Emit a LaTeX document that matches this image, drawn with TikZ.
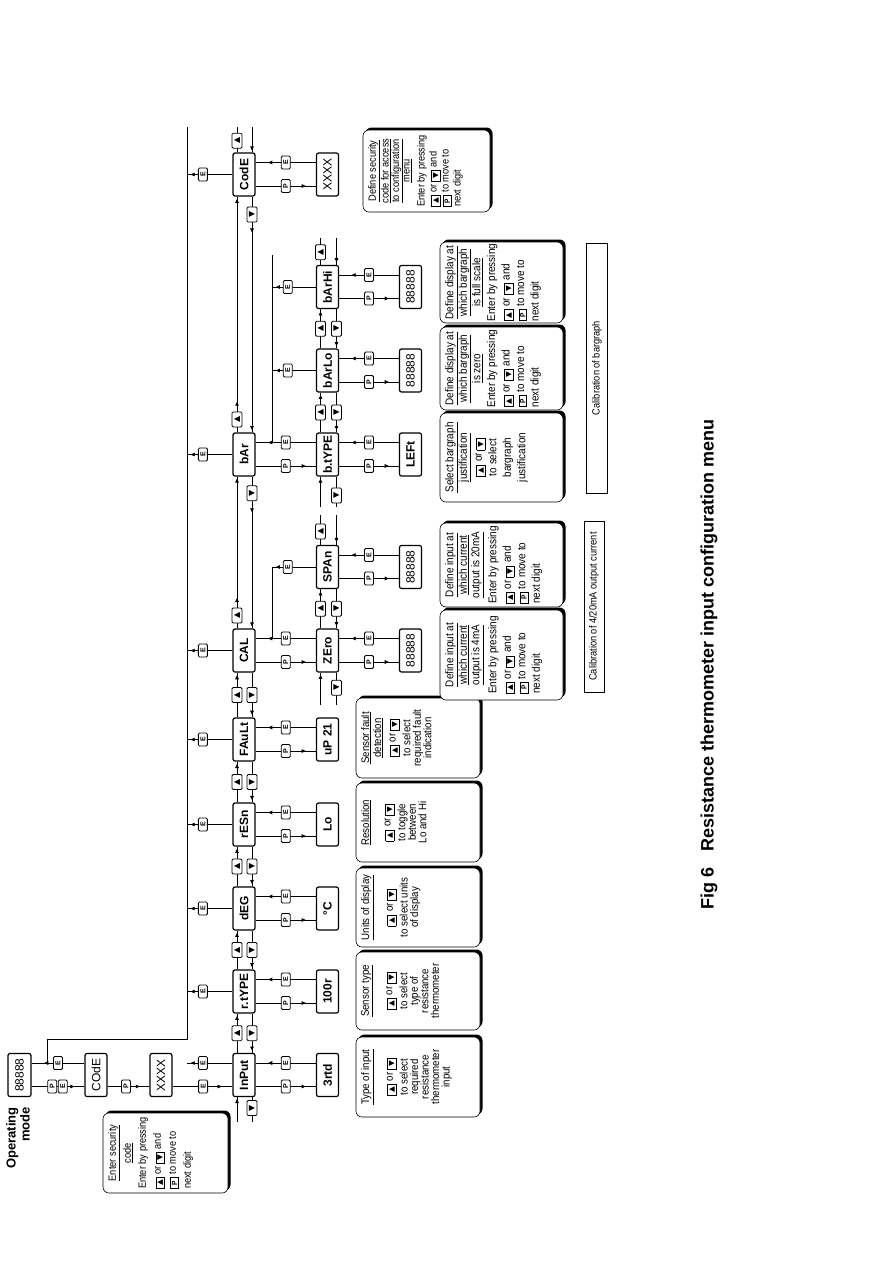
\documentclass[tikz,border=0pt]{standalone}
\usepackage{fontspec}
\setmainfont{Liberation Sans}
\newfontfamily\narrow[FakeStretch=0.88]{Liberation Sans}
\newfontfamily\dejavu{DejaVu Sans}
\usetikzlibrary{arrows.meta,calc,decorations.markings}
\setlength\fboxsep{1pt}
\setlength\fboxrule{0.7pt}
\newcommand\kup{\raisebox{-1.2pt}{\fbox{\makebox[8.5pt]{\dejavu\fontsize{7.5}{7.5}\selectfont ▲}}}}
\newcommand\kdn{\raisebox{-1.2pt}{\fbox{\makebox[8.5pt]{\dejavu\fontsize{7.5}{7.5}\selectfont ▼}}}}
\newcommand\kp{\raisebox{-1.2pt}{\fbox{\makebox[8.5pt]{\fontsize{7.5}{7.5}\selectfont\bfseries P}}}}
\newcommand\dset[3]{\def\dhfont{#1}\def\dbfont{#2}\def\dgap{#3}}
\newcommand\dbox[8]{%
 \fill[rounded corners=6pt] (#1+2.5,#2-2.5) rectangle (#3+2.5,#4-2.5);
 \draw[fill=white, line width=0.6pt, rounded corners=6pt] (#1,#2) rectangle (#3,#4);
 \node[dtxt, font=\dhfont, align=center, anchor=north] (#8h) at (#1+5,{(#2+#4)/2}) {#6};
 \node[dtxt, font=\dbfont, align=#5, anchor=north] (#8b) at ($(#8h.south)+(\dgap,0)$) {#7};}
\newcommand\PE[2]{%
 \draw[ln, mk=0.83] ([yshift=-11.5pt]#1.south) -- node[keyb]{P} ([yshift=-11.5pt]#1.south -| #2.north);
 \draw[ln, mk=0.79] ([yshift=12pt]#2.north) -- node[keyb]{E} ([yshift=12pt]#2.north -| #1.south);}
\newcommand\SE[1]{\draw[ln, mk=0.92] (#1.north) -- node[keyb,pos=0.65]{E} (#1.north -| spB);}
\newcommand\navS[3]{%
 \draw[ln, mk=0.94] ([xshift=-7pt]#1.east) -- node[akey]{▲} ([xshift=-7pt]#2.west);
 \draw[ln, mk=0.94] ([xshift=#3pt]#2.west) -- node[akey]{▼} ([xshift=#3pt]#1.east);}
\begin{document}
\begin{tikzpicture}[x=1pt,y=-1pt,
 ln/.style={line width=0.7pt},
 box/.style={draw, line width=1.2pt, rounded corners=2pt, rotate=90, minimum width=43pt, minimum height=22pt, inner sep=0pt, fill=white, font=\fontsize{12}{12}\selectfont\bfseries},
 vbox/.style={box, font=\fontsize{12}{12}\selectfont},
 keyb/.style={draw, line width=0.8pt, rounded corners=1.2pt, rotate=90, minimum width=13pt, minimum height=9pt, inner sep=0pt, fill=white, font=\fontsize{7}{7}\selectfont\bfseries},
 akey/.style={keyb, minimum width=15pt, minimum height=10pt, font=\dejavu\fontsize{8}{8}\selectfont},
 mk/.style={postaction={decorate}, decoration={markings, mark=at position #1 with {\arrow{Triangle[length=4pt,width=3.6pt]}}}},
 mkk/.style 2 args={postaction={decorate}, decoration={markings, mark=at position #1 with {\arrow{Triangle[length=4pt,width=3.6pt]}}, mark=at position #2 with {\arrow{Triangle[length=4pt,width=3.6pt]}}}},
 dtxt/.style={rotate=90, inner sep=0pt},
 cal/.style={draw, line width=0.6pt, rotate=90, inner sep=0pt, font=\narrow\fontsize{10.5}{10.5}\selectfont}
]
\fill[white] (0,0) rectangle (893,1263);
\useasboundingbox (0,0) rectangle (893,1263);

% ---- left part
\node[vbox, minimum height=23pt] (op) at (19.5,1075) {88888};
\node[vbox] (codeL) at (96,1075) {COdE};
\node[vbox] (xx1) at (161,1075) {XXXX};
\node[rotate=90, anchor=north east, align=right, inner sep=0pt, font=\fontsize{13}{14}\selectfont\bfseries] (opm) at (6,1107) {Operating\\mode};

% ---- main menu
\node[box] (inp) at (244,1075) {InPut};
\node[box] (rty) at (244,991.5) {r.tYPE};
\node[box] (deg) at (244,908.5) {dEG};
\node[box] (res) at (244,824.5) {rESn};
\node[box] (flt) at (244,739.5) {FAuLt};
\node[box] (cal) at (244,650.5) {CAL};
\node[box] (bar) at (244,454.5) {bAr};
\node[box] (cde) at (244,174.5) {CodE};

% ---- level 1
\node[box] (v3rtd) at (327.5,1075) {3rtd};
\node[box] (v100r) at (327.5,991.5) {100r};
\node[box] (vdegc) at (327.5,908.5) {°C};
\node[box] (vlo) at (327.5,824.5) {Lo};
\node[box] (vup) at (327.5,739.5) {uP 21};
\node[box] (zer) at (327.5,650.5) {ZEro};
\node[box] (spa) at (327.5,567) {SPAn};
\node[box] (bty) at (327.5,454.5) {b.tYPE};
\node[box] (blo) at (327.5,370.5) {bArLo};
\node[box] (bhi) at (327.5,287) {bArHi};
\node[vbox] (xx2) at (327.5,174.5) {XXXX};

% ---- level 2
\node[vbox] (z8) at (410.5,650.5) {88888};
\node[vbox] (s8) at (410.5,567) {88888};
\node[box] (lef) at (410.5,454.5) {LEFt};
\node[vbox] (l8) at (410.5,370.5) {88888};
\node[vbox] (h8) at (410.5,287) {88888};

% ---- spine
\coordinate (spT) at (187,127);
\coordinate (spB) at (187,1039);
\coordinate (spC) at (47,1039);
\coordinate (spJ) at (47,1063);
\draw[ln] (spT) -- (spB) -- (spC) -- (spJ);

\draw[ln, mk=0.81] ([yshift=-11.5pt]op.south) -- node[keyb,pos=0.39]{P} node[keyb,pos=0.59]{E} ([yshift=-11.5pt]op.south -| codeL.north);
\draw[ln, mk=0.76] ([yshift=12pt]codeL.north) -- node[keyb,pos=0.5]{E} ([yshift=12pt]codeL.north -| op.south);
\draw[ln, mk=0.77] ([yshift=-11.5pt]codeL.south) -- node[keyb,pos=0.44]{P} ([yshift=-11.5pt]codeL.south -| xx1.north);
\draw[ln, mk=0.82] ([yshift=-11.5pt]xx1.south) -- node[keyb,pos=0.51]{E} ([yshift=-11.5pt]xx1.south -| inp.north);
\draw[ln, mk=0.92] ([yshift=12pt]inp.north) -- node[keyb,pos=0.65]{E} ([yshift=12pt]inp.north -| spB);
\SE{rty}\SE{deg}\SE{res}\SE{flt}\SE{cal}\SE{bar}\SE{cde}

% ---- P / E to sub levels
\PE{inp}{v3rtd}\PE{rty}{v100r}\PE{deg}{vdegc}\PE{res}{vlo}\PE{flt}{vup}
\PE{cal}{zer}\PE{bar}{bty}\PE{cde}{xx2}
\PE{zer}{z8}\PE{spa}{s8}\PE{bty}{lef}\PE{blo}{l8}\PE{bhi}{h8}

% ---- sub E spines
\coordinate (zsT) at (272,567);
\coordinate (zsB) at (272,638.5);
\draw[ln, mk=0.91] (spa.north) -- node[keyb,pos=0.64]{E} (spa.north -| zsT);
\draw[ln] (zsT) -- (zsB);
\coordinate (bsT) at (272,255);
\coordinate (bsB) at (272,442.5);
\draw[ln] (bsT) -- (bsB);
\draw[ln, mk=0.91] (blo.north) -- node[keyb,pos=0.64]{E} (blo.north -| bsT);
\draw[ln, mk=0.91] (bhi.north) -- node[keyb,pos=0.64]{E} (bhi.north -| bsT);

% ---- navigation main menu
\navS{inp}{rty}{8}\navS{rty}{deg}{8}\navS{deg}{res}{8}\navS{res}{flt}{8}\navS{flt}{cal}{8}
\draw[ln, mkk={0.2}{0.987}] ([xshift=-7pt]cal.east) -- node[akey,pos=0.085]{▲} ([xshift=-7pt]bar.west);
\draw[ln, mkk={0.235}{0.987}] ([xshift=8pt]bar.west) -- node[akey,pos=0.11]{▼} ([xshift=8pt]cal.east);
\draw[ln, mkk={0.13}{0.99}] ([xshift=-7pt]bar.east) -- node[akey,pos=0.055]{▲} ([xshift=-7pt]cde.west);
\draw[ln, mkk={0.152}{0.99}] ([xshift=8pt]cde.west) -- node[akey,pos=0.076]{▼} ([xshift=8pt]bar.east);
\coordinate (ibl) at (237,1122); \coordinate (ibr) at (252,1122);
\coordinate (ctl) at (237,127); \coordinate (ctr) at (252,127);
\draw[ln, mk=0.92] (ibl) -- ([xshift=-7pt]inp.west);
\draw[ln] ([xshift=8pt]inp.west) -- node[akey,pos=0.44]{▼} (ibr);
\draw[ln] ([xshift=-7pt]cde.east) -- node[akey,pos=0.46]{▲} (ctl);
\draw[ln, mk=0.92] (ctr) -- ([xshift=8pt]cde.east);

% ---- navigation sub rows
\navS{zer}{spa}{9}\navS{bty}{blo}{9}\navS{blo}{bhi}{9}
\coordinate (zbl) at (320.5,705); \coordinate (zbr) at (336.5,705);
\coordinate (stl) at (320.5,515); \coordinate (str) at (336.5,515);
\coordinate (bbl) at (320.5,507); \coordinate (bbr) at (336.5,507);
\coordinate (htl) at (320.5,238); \coordinate (htr) at (336.5,238);
\draw[ln, mk=0.93] (zbl) -- ([xshift=-7pt]zer.west);
\draw[ln] ([xshift=9pt]zer.west) -- node[akey,pos=0.47]{▼} (zbr);
\draw[ln] ([xshift=-7pt]spa.east) -- node[akey,pos=0.45]{▲} (stl);
\draw[ln, mk=0.9] (str) -- ([xshift=9pt]spa.east);
\draw[ln, mk=0.93] (bbl) -- ([xshift=-7pt]bty.west);
\draw[ln] ([xshift=9pt]bty.west) -- node[akey,pos=0.62]{▼} (bbr);
\draw[ln] ([xshift=-7pt]bhi.east) -- node[akey,pos=0.47]{▲} (htl);
\draw[ln, mk=0.9] (htr) -- ([xshift=9pt]bhi.east);

% ---- description boxes
\dset{\narrow\fontsize{10.5}{15}\selectfont}{\narrow\fontsize{10.5}{15}\selectfont}{5}
\dbox{103}{1113}{228}{1193}{left}{\underline{Enter security}\\\underline{code}}{Enter by pressing\\\kup{} or \kdn{} and\\\kp{} to move to\\next digit}{dA}
\dset{\narrow\fontsize{11}{12}\selectfont}{\narrow\fontsize{11}{10.5}\selectfont}{13}
\dbox{356}{1037}{480}{1117}{center}{\underline{Type of input}}{\kup{} or \kdn{}\\[2pt]to select\\required\\resistance\\thermometer\\input}{dB}
\dbox{356}{952}{480}{1030}{center}{\underline{Sensor type}}{\kup{} or \kdn{}\\[2pt]to select\\type of\\resistance\\thermometer}{dC}
\dbox{356}{868}{480}{947}{center}{\underline{Units of display}}{\kup{} or \kdn{}\\[2pt]to select units\\of display}{dD}
\dbox{356}{783}{480}{862}{center}{\underline{Resolution}}{\kup{} or \kdn{}\\[2pt]to toggle\\between\\Lo and Hi}{dE}
\dset{\narrow\fontsize{11}{12}\selectfont}{\narrow\fontsize{11}{10.5}\selectfont}{6}
\dbox{356}{698}{480}{778}{center}{\underline{Sensor fault}\\\underline{detection}}{\kup{} or \kdn{}\\[2pt]to select\\required fault\\indication}{dF}
\dset{\narrow\fontsize{11.3}{12.5}\selectfont}{\narrow\fontsize{11.3}{14.5}\selectfont}{4}
\dbox{440}{610}{563}{700}{left}{\underline{Define input at}\\\underline{which current}\\\underline{output is 4mA}}{Enter by pressing\\\kup{} or \kdn{} and\\\kp{} to move to\\next digit}{dG}
\dbox{440}{523}{563}{607}{left}{\underline{Define input at}\\\underline{which current}\\\underline{output is 20mA}}{Enter by pressing\\\kup{} or \kdn{} and\\\kp{} to move to\\next digit}{dH}
\dbox{440}{413}{563}{502}{center}{\underline{Select bargraph}\\\underline{justification}}{\kup{} or \kdn{}\\to select\\bargraph\\justification}{dI}
\dbox{440}{327}{563}{410}{left}{\underline{Define display at}\\\underline{which bargraph}\\\underline{is zero}}{Enter by pressing\\\kup{} or \kdn{} and\\\kp{} to move to\\next digit}{dJ}
\dbox{440}{242}{563}{323}{left}{\underline{Define display at}\\\underline{which bargraph}\\\underline{is full scale}}{Enter by pressing\\\kup{} or \kdn{} and\\\kp{} to move to\\next digit}{dK}
\dset{\narrow\fontsize{10.5}{10.5}\selectfont}{\narrow\fontsize{10.5}{12}\selectfont}{5}
\dbox{363}{130}{490}{212}{left}{\underline{Define security}\\\underline{code for access}\\\underline{to configuration}\\\underline{menu}}{Enter by pressing\\\kup{} or \kdn{} and\\\kp{} to move to\\next digit}{dL}

% ---- calibration labels and title
\node[cal, minimum width=171pt, minimum height=20pt] (c1) at (594,606.5) {Calibration of 4/20mA output current};
\node[cal, minimum width=250pt, minimum height=21pt] (c2) at (597,368) {Calibration of bargraph};
\node[rotate=90, anchor=west, inner sep=0pt, font=\fontsize{18}{18}\selectfont\bfseries] (title) at (709,910) {Fig 6\hspace{16pt}Resistance thermometer input configuration menu};
\end{tikzpicture}
\end{document}
